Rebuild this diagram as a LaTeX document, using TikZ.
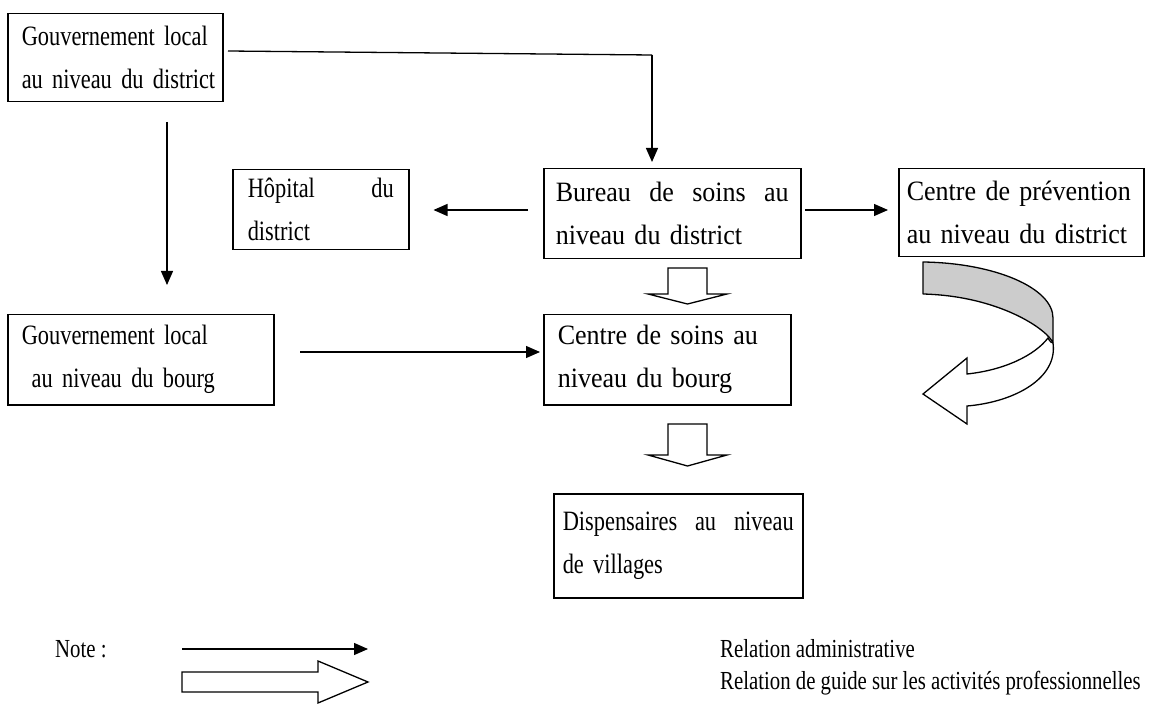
\documentclass[tikz,border=0pt]{standalone}
\usepackage{fontspec}
\setmainfont{Liberation Serif}[FakeStretch=0.8]
\newfontfamily\widerfont{Liberation Serif}[FakeStretch=0.93]
\usetikzlibrary{arrows.meta,calc}
\begin{document}
\begin{tikzpicture}[x=1pt,y=-1pt,
  box/.style={draw,line width=1.5pt,rectangle,anchor=north west,inner xsep=14pt,inner ysep=0pt,align=left,font=\fontsize{28}{43}\selectfont},
  wbox/.style={box,font=\widerfont\fontsize{28}{43}\selectfont},
  adm/.style={line width=1.3pt,-{Triangle[length=14pt,width=12pt]}},
  blk/.style={draw,line width=1.3pt,fill=white,line join=miter},
  txt/.style={font=\fontsize{26}{30}\selectfont,anchor=west,inner sep=0pt}]
\useasboundingbox[fill=white] (0,0) rectangle (1171,722);
% boxes
\node[box,minimum width=215pt,minimum height=88pt,text width=187pt,inner xsep=14pt] (gld) at (7,13) {\mbox{Gouvernement local}\\\mbox{au niveau du district}};
\node[box,minimum width=176pt,minimum height=80pt,text width=146pt,inner xsep=15pt] (hop) at (232,169) {\makebox[146pt]{Hôpital\hfill du}\\district};
\node[wbox,minimum width=257pt,minimum height=90pt,text width=233pt,inner xsep=12pt] (bur) at (543,168) {\makebox[233pt]{Bureau\hfill de\hfill soins\hfill au}\\\mbox{niveau du district}};
\node[wbox,minimum width=245pt,minimum height=88pt,text width=229pt,inner xsep=8pt] (prev) at (898,168) {\mbox{Centre de prévention}\\\mbox{au niveau du district}};
\node[box,minimum width=266pt,minimum height=90pt,text width=238pt] (glb) at (7,314) {\mbox{Gouvernement local}\\\mbox{\hspace*{10pt}au niveau du bourg}};
\node[wbox,minimum width=247pt,minimum height=90pt,text width=219pt] (csb) at (543,314) {\mbox{Centre de soins au}\\\mbox{niveau du bourg}};
\node[box,minimum width=249pt,minimum height=104pt,text width=231pt,inner xsep=9pt] (disp) at (553,493) {\makebox[231pt]{Dispensaires\hfill au\hfill niveau}\\de villages};
% administrative relations
\coordinate (c0) at (228,51);
\coordinate (c1) at (652,55);
\draw[line width=1.3pt] (c0) -- (c1);
\draw[adm] (c1) -- ($(c1 |- bur.north)+(0,-6)$);
\coordinate (d0) at (167,122);
\draw[adm] (d0) -- ($(d0 |- glb.north)+(0,-29)$);
\coordinate (h0) at (528,210);
\draw[adm] (h0) -- ($(h0 -| hop.east)+(24,0)$);
\coordinate (p0) at (805,210);
\draw[adm] (p0) -- ($(p0 -| prev.west)+(-10,0)$);
\coordinate (g0) at (300,352);
\draw[adm] (g0) -- ($(g0 -| csb.west)+(-3,0)$);
% professional guidance block arrows
\draw[blk] (668,268) -- (707,268) -- (707,294) -- (727,294) -- (687.5,304) -- (648,294) -- (668,294) -- cycle;
\draw[blk] (668,424) -- (707,424) -- (707,455) -- (727,455) -- (687.5,466) -- (648,455) -- (668,455) -- cycle;
% curved arrow
\draw[line width=1.3pt,fill=black!20,line join=round]
  (923,262) .. controls (995,263) and (1053,288) .. (1053,318) -- (1053,343)
  .. controls (1048,330) and (1000,296) .. (923,294) -- cycle;
\draw[line width=1.3pt,fill=white,line join=miter]
  (1048,338) .. controls (1050,342) and (1052,343) .. (1053,343)
  .. controls (1058,378) and (1015,402) .. (967,406) -- (967,424) -- (923,394) -- (967,358) -- (967,374)
  .. controls (1005,370) and (1035,355) .. (1048,338) -- cycle;
% legend
\node[txt] (note) at (55,649) {Note :};
\coordinate (la) at (182,649);
\coordinate (lb) at (368,649);
\draw[adm] (la) -- (lb);
\draw[blk] (182,672) -- (318,672) -- (318,661) -- (368,682) -- (318,703) -- (318,692) -- (182,692) -- cycle;
\node[txt] (l1) at (720,649) {Relation administrative};
\node[txt] (l2) at (720,683) {Relation de guide sur les activités professionnelles};
\end{tikzpicture}
\end{document}
